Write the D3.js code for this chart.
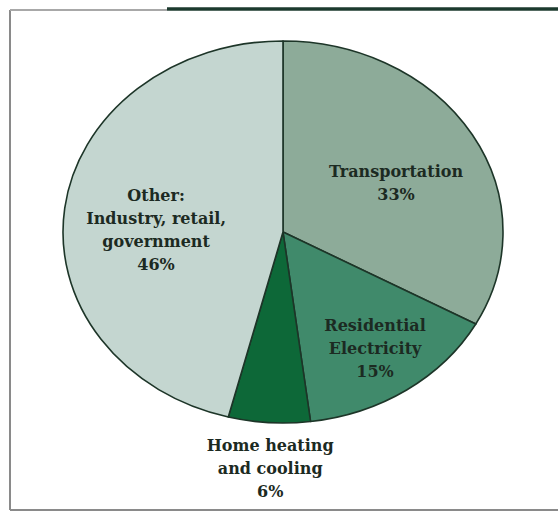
<!DOCTYPE html>
<html>
<head>
<meta charset="utf-8">
<script src="https://cdn.jsdelivr.net/npm/d3@7"></script>
<style>
  body { margin: 0; background: #fff; }
</style>
</head>
<body>
<div id="pie"></div>
<script>
/* Chart data */
const categories = ["Transportation", "Residential Electricity", "Home heating and cooling", "Other: Industry, retail, government"];
const values = [33, 15, 6, 46];
const labelLines = [
  ["Transportation", "33%"],
  ["Residential", "Electricity", "15%"],
  ["Home heating", "and cooling", "6%"],
  ["Other:", "Industry, retail,", "government", "46%"]
];
const colors = ["#8dab99", "#408a6b", "#0d6838", "#c4d6d0"];
// label position: angle (deg, clockwise from top) and radius as a fraction of the pie radius
const labelAngle = [63.5, 145.4, 182.7, 271];
const labelRadius = [0.574, 0.737, 1.237, 0.577];

const width = 558, height = 515;
const cx = 283, cy = 232;
const rx = 220, ry = 191;
const squash = ry / rx;

const data = categories.map((c, i) => ({
  name: c, value: values[i], lines: labelLines[i], color: colors[i],
  la: labelAngle[i], lr: labelRadius[i]
}));

const svg = d3.select("#pie")
  .append("svg")
    .attr("width", width)
    .attr("height", height)
    .attr("viewBox", [0, 0, width, height]);

/* Frame round the figure */
const frame = svg.append("g").attr("class", "frame");
frame.append("line")
  .attr("x1", 10).attr("y1", 10).attr("x2", 10).attr("y2", 510)
  .attr("stroke", "#8a8a8a").attr("stroke-width", 2);
frame.append("line")
  .attr("x1", 10).attr("y1", 510).attr("x2", width).attr("y2", 510)
  .attr("stroke", "#8a8a8a").attr("stroke-width", 2);
frame.append("line")
  .attr("x1", 10).attr("y1", 10).attr("x2", 167).attr("y2", 10)
  .attr("stroke", "#a8a8a8").attr("stroke-width", 2);
frame.append("line")
  .attr("x1", 167).attr("y1", 9).attr("x2", width).attr("y2", 9)
  .attr("stroke", "#1c3a2e").attr("stroke-width", 3.5);

/* Pie layout: clockwise from 12 o'clock, data order kept */
const pie = d3.pie()
  .value(d => d.value)
  .sort(null);

const arc = d3.arc()
  .innerRadius(0)
  .outerRadius(rx);

// the pie is drawn as a circle and squashed into an ellipse
svg.append("g")
  .attr("class", "slices")
  .attr("transform", `translate(${cx},${cy}) scale(1,${squash})`)
  .selectAll("path")
  .data(pie(data))
  .join("path")
    .attr("d", arc)
    .attr("fill", d => d.data.color)
    .attr("stroke", "#1d3528")
    .attr("stroke-width", 1.6)
    .attr("stroke-linejoin", "round")
    .attr("vector-effect", "non-scaling-stroke");

/* Labels */
const lineHeight = 23;
const fontSize = 16;
const labels = svg.append("g")
  .attr("class", "labels")
  .attr("font-family", "'DejaVu Serif', 'Liberation Serif', serif")
  .attr("font-weight", "bold")
  .attr("font-size", fontSize)
  .attr("fill", "#1c2a22")
  .attr("text-anchor", "middle")
  .selectAll("text")
  .data(data)
  .join("text")
    .attr("transform", d => {
      const a = d.la * Math.PI / 180;
      const x = cx + d.lr * rx * Math.sin(a);
      const y = cy - d.lr * rx * Math.cos(a) * squash;
      return `translate(${x},${y})`;
    });

labels.selectAll("tspan")
  .data(d => d.lines.map((t, i) => ({t, i, n: d.lines.length})))
  .join("tspan")
    .attr("x", 0)
    .attr("y", d => (d.i - (d.n - 1) / 2) * lineHeight + fontSize * 0.36)
    .text(d => d.t);
</script>
</body>
</html>
